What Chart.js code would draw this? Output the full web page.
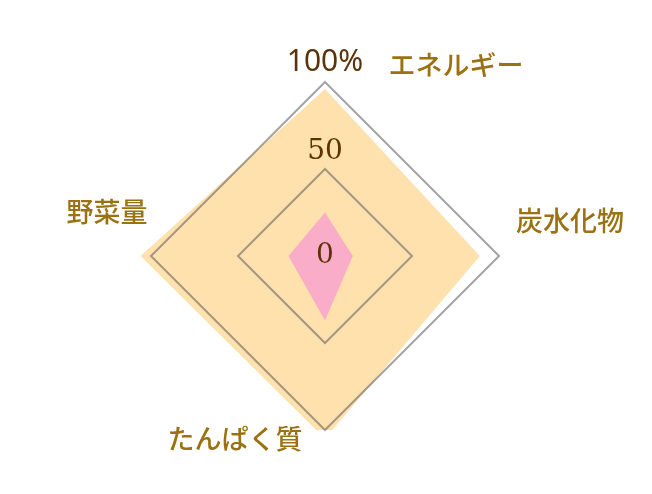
<!DOCTYPE html>
<html>
<head>
<meta charset="utf-8">
<script src="https://cdn.jsdelivr.net/npm/chart.js@4"></script>
<style>
  html, body { margin: 0; padding: 0; background: #fff; }
  #wrap { width: 652px; height: 494px; }
</style>
</head>
<body>
<div id="wrap"><canvas id="radar"></canvas></div>
<script>
// axes, clockwise from the top
var categories = ['エネルギー', '炭水化物', 'たんぱく質', '野菜量'];
var targetValues = [96, 89, 105, 106];
var actualValues = [25, 16, 37, 21];
var tickValues = [0, 50, 100];
var tickLabels = ['0', '50', '100%'];

// where the labels sit relative to their anchor (px)
var labelShift = [[131, -17], [71, -35], [-90, 9], [-44, -44]];
var tickShift = [0, -17, -20];
var tickFonts = ['28px "DejaVu Serif"', '28px "DejaVu Serif"', '30px "Noto Sans"'];

var labelPlugin = {
    id: 'labels',
    afterDraw: function (chart) {
        var r = chart.scales.r;
        var ctx = chart.ctx;
        ctx.save();
        ctx.textAlign = 'center';
        ctx.textBaseline = 'middle';

        // tick values drawn up the vertical axis
        ctx.fillStyle = '#5b3306';
        tickValues.forEach(function (v, i) {
            ctx.font = tickFonts[i];
            var d = r.getDistanceFromCenterForValue(v);
            ctx.fillText(tickLabels[i], r.xCenter, r.yCenter - d + tickShift[i]);
        });

        // axis names
        ctx.fillStyle = '#9b7212';
        ctx.font = '500 27px "Noto Sans CJK JP"';
        categories.forEach(function (name, i) {
            var p = r.getPointPosition(i, r.getDistanceFromCenterForValue(100));
            ctx.fillText(name, p.x + labelShift[i][0], p.y + labelShift[i][1]);
        });
        ctx.restore();
    }
};

new Chart(document.getElementById('radar'), {
    type: 'radar',
    data: {
        labels: categories,
        datasets: [{
            data: targetValues,
            backgroundColor: '#ffe1ae',
            borderWidth: 0,
            pointRadius: 0,
            fill: true,
            order: 2
        }, {
            data: actualValues,
            backgroundColor: '#faadc8',
            borderWidth: 0,
            pointRadius: 0,
            fill: true,
            order: 1
        }]
    },
    options: {
        responsive: true,
        maintainAspectRatio: false,
        animation: false,
        layout: { padding: { top: 82, bottom: 64, left: 0, right: 2 } },
        plugins: {
            legend: { display: false },
            tooltip: { enabled: false }
        },
        elements: { line: { tension: 0 } },
        scales: {
            r: {
                min: 0,
                max: 100,
                ticks: { display: false, stepSize: 50 },
                pointLabels: { display: false },
                angleLines: { display: false },
                grid: { z: 1, color: 'rgba(90, 90, 90, 0.55)', lineWidth: 2 }
            }
        }
    },
    plugins: [labelPlugin]
});
</script>
</body>
</html>
